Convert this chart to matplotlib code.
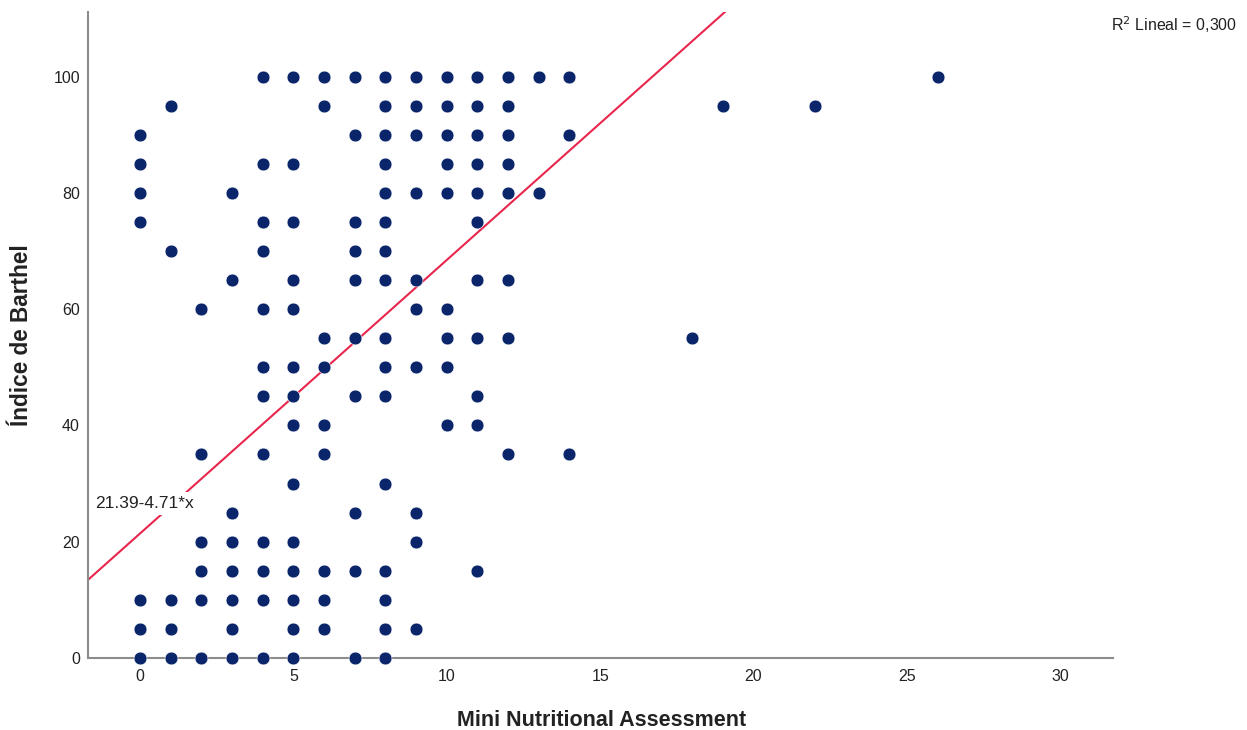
import numpy as np
import matplotlib
matplotlib.use("Agg")
import matplotlib.pyplot as plt

plt.rcParams['font.family'] = ['Liberation Sans', 'DejaVu Sans']

# Barthel score -> MNA values seen at that score
barthel_rows = [100, 95, 90, 85, 80, 75, 70, 65, 60, 55, 50,
                45, 40, 35, 30, 25, 20, 15, 10, 5, 0]
mna_by_row = [
    [4, 5, 6, 7, 8, 9, 10, 11, 12, 13, 14, 26],
    [1, 6, 8, 9, 10, 11, 12, 19, 22],
    [0, 7, 8, 9, 10, 11, 12, 14],
    [0, 4, 5, 8, 10, 11, 12],
    [0, 3, 8, 9, 10, 11, 12, 13],
    [0, 4, 5, 7, 8, 11],
    [1, 4, 7, 8],
    [3, 5, 7, 8, 9, 11, 12],
    [2, 4, 5, 9, 10],
    [6, 7, 8, 10, 11, 12, 18],
    [4, 5, 6, 8, 9, 10],
    [4, 5, 7, 8, 11],
    [5, 6, 10, 11],
    [2, 4, 6, 12, 14],
    [5, 8],
    [3, 7, 9],
    [2, 3, 4, 5, 9],
    [2, 3, 4, 5, 6, 7, 8, 11],
    [0, 1, 2, 3, 4, 5, 6, 8],
    [0, 1, 3, 5, 6, 8, 9],
    [0, 1, 2, 3, 4, 5, 7, 8],
]

intercept = 21.39
slope = 4.71
fit_label = "21.39-4.71*x"
r2_label = "R$^2$ Lineal = 0,300"

x_ticks = [0, 5, 10, 15, 20, 25, 30]
y_ticks = [0, 20, 40, 60, 80, 100]

xs = np.concatenate([np.array(r, dtype=float) for r in mna_by_row])
ys = np.concatenate([np.full(len(r), b, dtype=float) for r, b in zip(mna_by_row, barthel_rows)])

fig = plt.figure(figsize=(12.47, 7.30), dpi=100)
ax = fig.add_axes([88.3 / 1247, 1 - 657.7 / 730, (1113 - 88.3) / 1247, (657.7 - 12) / 730])

xlim = (-1.686, 31.72)
ylim = (0, 111.2)

ax.scatter(xs, ys, s=85, color="#0a2569", edgecolors="white", linewidths=0.4,
           zorder=3, clip_on=False)

xl = np.array(xlim)
ax.plot(xl, intercept + slope * xl, color="#e8264d", lw=1.5, zorder=2)

# fit equation sits on a white box that breaks the line
ax.text(-1.47, 26.6, fit_label, fontsize=12.5, ha="left", va="center", color="#222222",
        bbox=dict(facecolor="white", edgecolor="none", pad=3), zorder=4)

ax.set_xlim(*xlim)
ax.set_ylim(*ylim)
ax.set_xticks(x_ticks)
ax.set_yticks(y_ticks)
ax.tick_params(length=0, labelsize=11.5, colors="#222222")
ax.tick_params(axis="x", pad=8)
ax.tick_params(axis="y", pad=6)

for side in ["top", "right"]:
    ax.spines[side].set_visible(False)
for side in ["left", "bottom"]:
    ax.spines[side].set_color("#8c8c8c")
    ax.spines[side].set_linewidth(1.5)

fig.text(602 / 1247, 1 - 720 / 730, "Mini Nutritional Assessment", fontsize=15.5,
         fontweight="bold", color="#222222", ha="center", va="center")
fig.text(22 / 1247, 1 - 335 / 730, "Índice de Barthel", fontsize=16.3, rotation=90,
         fontweight="bold", color="#222222", ha="center", va="center")

fig.text(1237 / 1247, 1 - 25 / 730, r2_label, fontsize=11.5, ha="right", va="center",
         color="#222222")

fig.savefig("out.png", dpi=100, facecolor="white")
